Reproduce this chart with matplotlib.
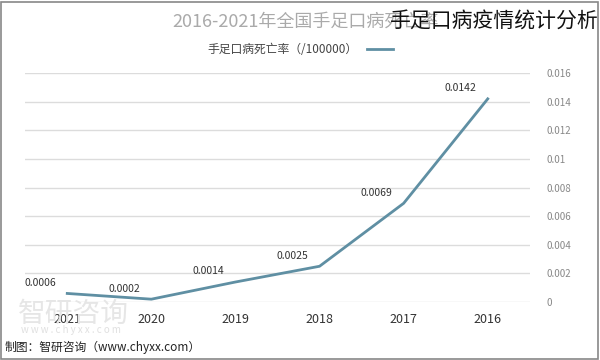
import matplotlib
matplotlib.use("Agg")
import matplotlib.pyplot as plt

plt.rcParams['font.family'] = ['Noto Sans CJK SC', 'DejaVu Sans']

years = ['2016', '2017', '2018', '2019', '2020', '2021']
death_rate = [0.0142, 0.0069, 0.0025, 0.0014, 0.0002, 0.0006]
rate_labels = ['0.0142', '0.0069', '0.0025', '0.0014', '0.0002', '0.0006']
y_ticks = [0, 0.002, 0.004, 0.006, 0.008, 0.01, 0.012, 0.014, 0.016]
y_tick_labels = ['0', '0.002', '0.004', '0.006', '0.008', '0.01', '0.012', '0.014', '0.016']

line_color = '#5f8fa3'

fig = plt.figure(figsize=(6, 3.6), dpi=100)
ax = fig.add_axes([0.042, 0.161, 0.841, 0.636])

x = list(range(len(years)))
ax.plot(x, death_rate, color=line_color, lw=2, label='手足口病死亡率（/100000）')
for xi, v, lab in zip(x, death_rate, rate_labels):
    ax.annotate(lab, (xi, v), xytext=(-8, 4), textcoords='offset points',
                ha='right', va='bottom', fontsize=7.5, color='#333333')

ax.set_xlim(5.5, -0.5)
ax.set_ylim(0, 0.016)
ax.set_xticks(x)
ax.set_xticklabels(years, fontsize=9, color='#333333')
ax.set_yticks(y_ticks)
ax.set_yticklabels(y_tick_labels, fontsize=7, color='#888888')
ax.yaxis.tick_right()
ax.tick_params(axis='both', length=0)
ax.tick_params(axis='y', pad=12)
ax.tick_params(axis='x', pad=8)
ax.grid(axis='y', color='#dcdcdc', lw=1)
for s in ax.spines.values():
    s.set_visible(False)

# watermark
fig.text(0.03, 0.105, '智研咨询', fontsize=20, color='#e6e6e6', zorder=0)
fig.text(0.035, 0.075, 'w w w . c h y x x . c o m', fontsize=7, color='#e0e0e0', zorder=0)

fig.text(0.51, 0.94, '2016-2021年全国手足口病死亡率', fontsize=13, color='#aaaaaa',
         ha='center', va='center')
fig.text(0.997, 0.94, '手足口病疫情统计分析', fontsize=15, color='#111111',
         ha='right', va='center')

ax.legend(loc='center', bbox_to_anchor=(0.5, 0.862), bbox_transform=fig.transFigure,
          frameon=False, markerfirst=False, fontsize=8.5, handlelength=2.2,
          labelcolor='#444444')

fig.text(0.008, 0.035, '制图：智研咨询（www.chyxx.com）', fontsize=8.5, color='#222222',
         ha='left', va='center')

frame = plt.Rectangle((0.002, 0.004), 0.995, 0.99, transform=fig.transFigure,
                      fill=False, ec='#888888', lw=1.2)
fig.add_artist(frame)

fig.savefig('out.png', dpi=100)
